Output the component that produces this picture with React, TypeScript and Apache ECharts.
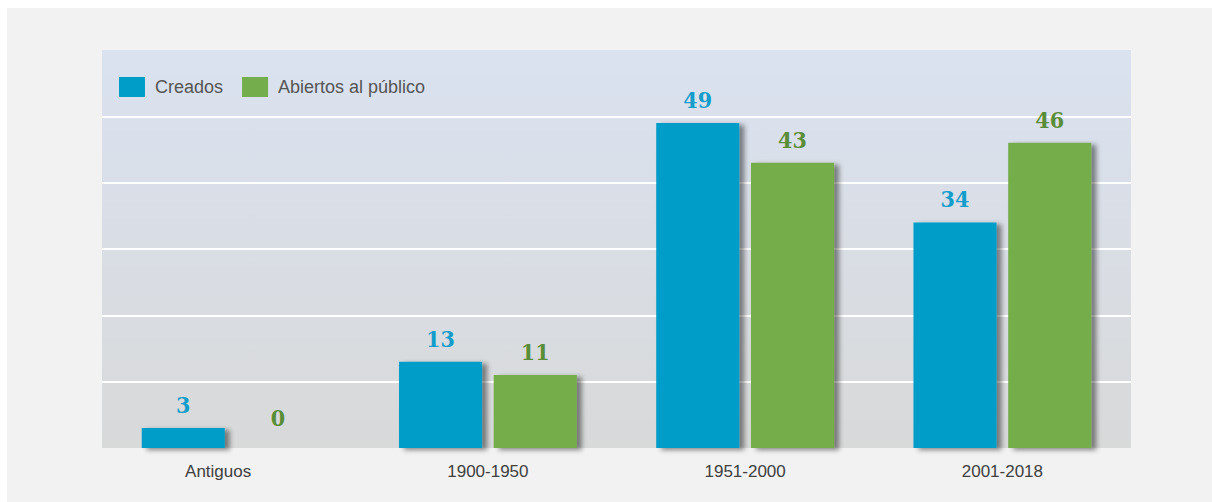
import React, { useEffect, useRef } from "react";
import * as echarts from "echarts";

const categories = ["Antiguos", "1900-1950", "1951-2000", "2001-2018"];
const creados = [3, 13, 49, 34];
const abiertos = [0, 11, 43, 46];
const seriesNames = ["Creados", "Abiertos al público"];

const BLUE = "#019dc9";
const GREEN = "#74ad4b";
const BLUE_LABEL = "#139dcb";
const GREEN_LABEL = "#5a8d37";

export default function App() {
  const ref = useRef<HTMLDivElement>(null);
  useEffect(() => {
    if (!ref.current) return;
    const chart = echarts.init(ref.current, null, { renderer: "svg" });
    const labelFont = {
      fontFamily: "'DejaVu Serif Condensed', 'DejaVu Serif', serif",
      fontWeight: "bold" as const,
      fontSize: 23,
    };
    const shadow = {
      shadowColor: "rgba(0,0,0,0.45)",
      shadowBlur: 5,
      shadowOffsetX: 5,
      shadowOffsetY: 2,
    };
    chart.setOption({
      animation: false,
      backgroundColor: "#f2f2f2",
      legend: {
        left: 107,
        top: 64,
        itemWidth: 26,
        itemHeight: 20,
        itemGap: 19,
        icon: "rect",
        textStyle: {
          fontFamily: "'Liberation Sans', Arial, sans-serif",
          fontSize: 18,
          color: "#555555",
          padding: [0, 0, 0, 5],
        },
        data: seriesNames,
      },
      grid: {
        left: 95,
        top: 42,
        right: 81,
        bottom: 54,
        show: true,
        borderWidth: 0,
        backgroundColor: new echarts.graphic.LinearGradient(0, 0, 0, 1, [
          { offset: 0, color: "#dae2f0" },
          { offset: 1, color: "#d8d9d9" },
        ]),
      },
      xAxis: {
        type: "category",
        data: categories.map((c, i) =>
          i === 0 ? { value: c, textStyle: { padding: [0, 25, 0, 0] } } : c
        ),
        axisLine: { show: false },
        axisTick: { show: false },
        axisLabel: {
          margin: 15,
          fontFamily: "'Liberation Sans', Arial, sans-serif",
          fontSize: 17,
          color: "#404040",
        },
      },
      yAxis: {
        type: "value",
        min: 0,
        max: 60,
        interval: 10,
        axisLabel: { show: false },
        axisLine: { show: false },
        axisTick: { show: false },
        splitLine: {
          show: true,
          lineStyle: {
            width: 2,
            color: [
              "rgba(255,255,255,0)",
              "#ffffff",
              "#ffffff",
              "#ffffff",
              "#ffffff",
              "#ffffff",
              "rgba(255,255,255,0)",
            ],
          },
        },
      },
      series: [
        {
          name: seriesNames[0],
          type: "bar",
          data: creados,
          barWidth: "32.3%",
          barGap: "14%",
          itemStyle: { color: BLUE, ...shadow },
          label: {
            show: true,
            position: "top",
            distance: 12,
            color: BLUE_LABEL,
            ...labelFont,
          },
        },
        {
          name: seriesNames[1],
          type: "bar",
          data: abiertos.map((v) =>
            v === 0 ? { value: v, label: { distance: 19 } } : v
          ),
          barWidth: "32.3%",
          barGap: "14%",
          itemStyle: { color: GREEN, ...shadow },
          label: {
            show: true,
            position: "top",
            distance: 12,
            color: GREEN_LABEL,
            ...labelFont,
          },
        },
      ],
    });
    return () => chart.dispose();
  }, []);
  return (
    <div
      ref={ref}
      style={{ position: "absolute", left: 7, top: 8, width: 1205, height: 494 }}
    />
  );
}
